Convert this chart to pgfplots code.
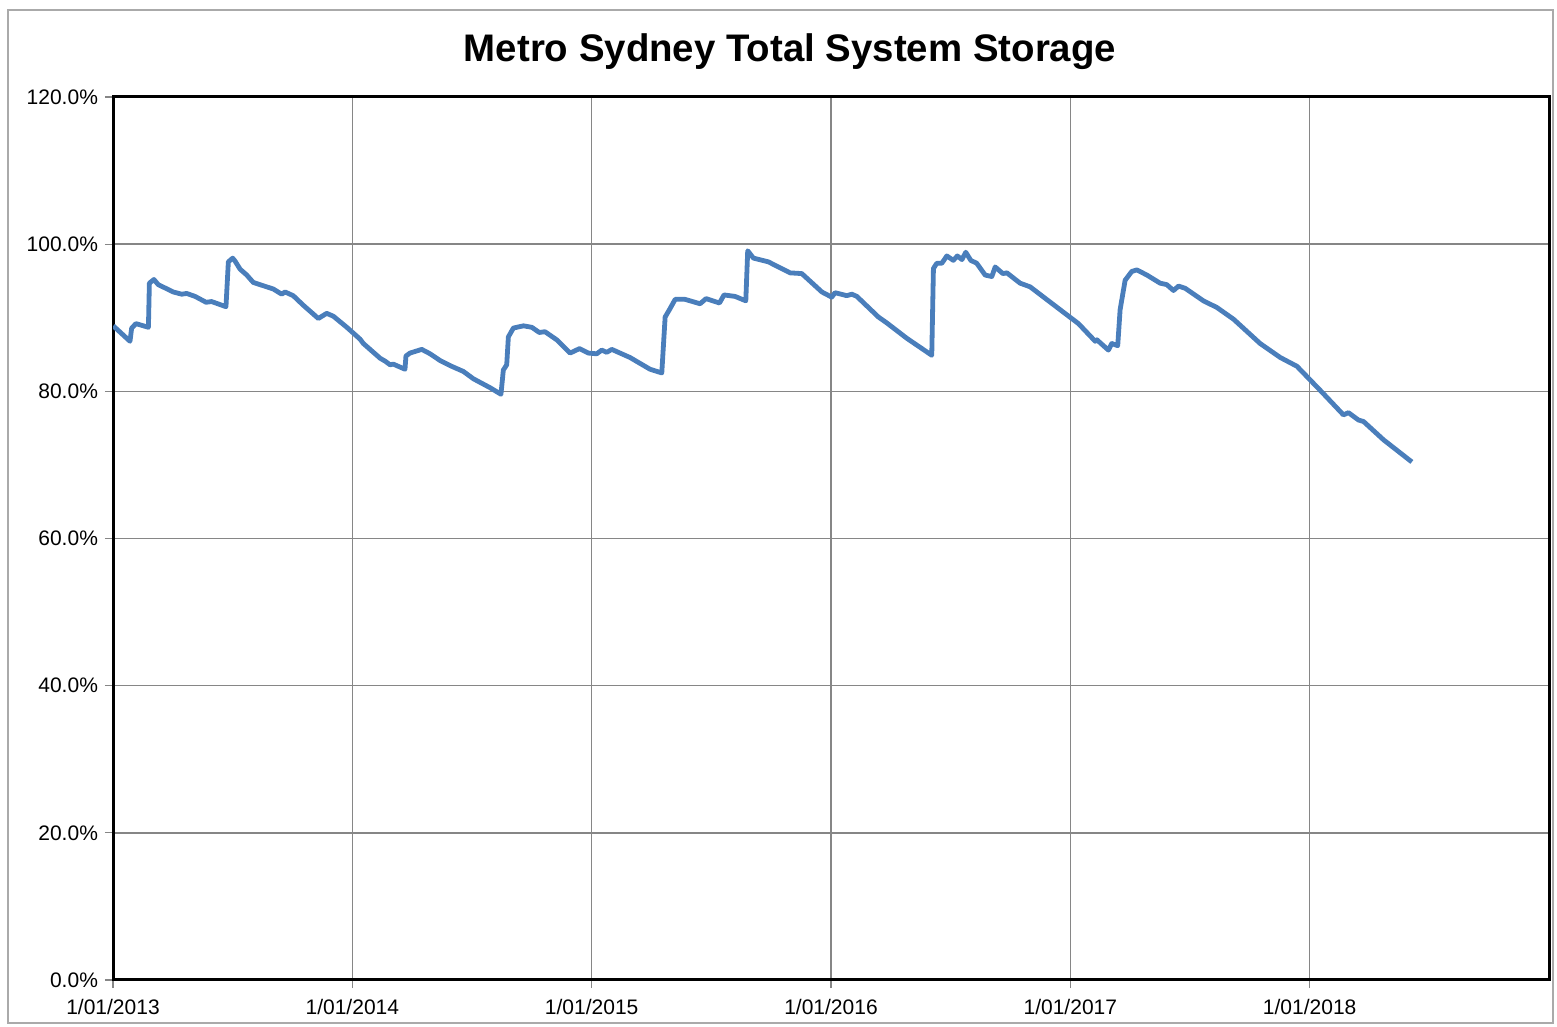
\documentclass[border=0pt]{standalone}
\usepackage{pgfplots}
\pgfplotsset{compat=1.18}
\usepackage{fontspec}
\setmainfont{Liberation Sans}
\definecolor{serblue}{RGB}{74,126,187}
\definecolor{gridgray}{RGB}{134,134,134}
\begin{document}
\begin{tikzpicture}
\useasboundingbox (-56.5pt,-23.5pt) rectangle (722pt,490pt);
\draw[gridgray!70, line width=0.6pt] (-52.5pt,-21.5pt) rectangle (720pt,485pt);
\begin{axis}[
  at={(0,0)}, anchor=south west,
  scale only axis,
  width=718pt, height=441.5pt,
  xmin=0, xmax=6, ymin=0, ymax=120,
  xtick={0,1,2,3,4,5},
  xticklabels={1/01/2013,1/01/2014,1/01/2015,1/01/2016,1/01/2017,1/01/2018},
  ytick={0,20,40,60,80,100,120},
  yticklabels={0.0\%,20.0\%,40.0\%,60.0\%,80.0\%,100.0\%,120.0\%},
  grid=major,
  major grid style={gridgray, line width=0.75pt},
  tick align=outside,
  major tick length=4pt,
  tick style={gridgray, line width=0.6pt},
  axis line style={black, line width=1.5pt},
  ticklabel style={font=\fontsize{10.5}{12}\selectfont},
  xticklabel style={yshift=-2pt},
  xtick pos=bottom, ytick pos=left,
]
\addplot[serblue, line width=2.4pt, line join=round] coordinates {
(0.001,88.9) (0.071,86.8) (0.078,88.6) (0.096,89.2) (0.148,88.7) (0.152,94.7)
(0.171,95.2) (0.189,94.5) (0.252,93.5) (0.287,93.2) (0.308,93.3) (0.343,92.9)
(0.389,92.1) (0.412,92.2) (0.472,91.5) (0.482,97.6) (0.500,98.1) (0.510,97.7)
(0.531,96.6) (0.559,95.8) (0.586,94.8) (0.614,94.5) (0.670,93.9) (0.705,93.2)
(0.719,93.5) (0.753,93.0) (0.795,91.7) (0.858,89.9) (0.893,90.6) (0.921,90.2)
(0.977,88.7) (1.032,87.1) (1.046,86.5) (1.116,84.5) (1.137,84.1) (1.158,83.6)
(1.171,83.7) (1.220,83.0) (1.224,84.8) (1.241,85.2) (1.290,85.7) (1.325,85.1)
(1.366,84.2) (1.415,83.4) (1.464,82.7) (1.506,81.7) (1.575,80.5) (1.621,79.6)
(1.631,82.9) (1.645,83.6) (1.652,87.4) (1.673,88.6) (1.715,88.9) (1.750,88.7)
(1.781,88.0) (1.805,88.1) (1.854,87.0) (1.910,85.2) (1.949,85.8) (1.986,85.2)
(2.021,85.1) (2.042,85.6) (2.063,85.3) (2.084,85.7) (2.160,84.6) (2.244,83.0)
(2.293,82.5) (2.307,90.1) (2.325,91.1) (2.349,92.5) (2.390,92.5) (2.453,91.9)
(2.478,92.6) (2.534,92.0) (2.553,93.1) (2.599,92.9) (2.644,92.3) (2.652,99.1)
(2.676,98.1) (2.738,97.6) (2.829,96.1) (2.878,96.0) (2.962,93.5) (3.003,92.8)
(3.017,93.4) (3.066,93.0) (3.087,93.2) (3.108,92.9) (3.198,90.1) (3.233,89.3)
(3.317,87.2) (3.421,84.9) (3.428,96.7) (3.442,97.4) (3.463,97.4) (3.484,98.4)
(3.511,97.8) (3.528,98.4) (3.547,97.9) (3.563,98.9) (3.584,97.8) (3.609,97.4)
(3.644,95.8) (3.672,95.6) (3.686,96.9) (3.718,96.0) (3.735,96.1) (3.790,94.7)
(3.832,94.2) (3.957,91.1) (4.034,89.2) (4.104,86.8) (4.111,87.0) (4.159,85.6)
(4.173,86.5) (4.198,86.2) (4.208,91.1) (4.229,95.1) (4.257,96.3) (4.278,96.5)
(4.320,95.8) (4.375,94.7) (4.403,94.5) (4.431,93.7) (4.452,94.3) (4.480,94.0)
(4.556,92.3) (4.612,91.4) (4.682,89.8) (4.793,86.5) (4.877,84.6) (4.947,83.4)
(5.051,79.9) (5.141,76.8) (5.162,77.1) (5.204,76.1) (5.225,75.9) (5.309,73.4)
(5.427,70.4)
};
\end{axis}
\node[font=\bfseries\fontsize{19.2}{22}\selectfont] at (338.5pt,464pt) {Metro Sydney Total System Storage};
\end{tikzpicture}
\end{document}
